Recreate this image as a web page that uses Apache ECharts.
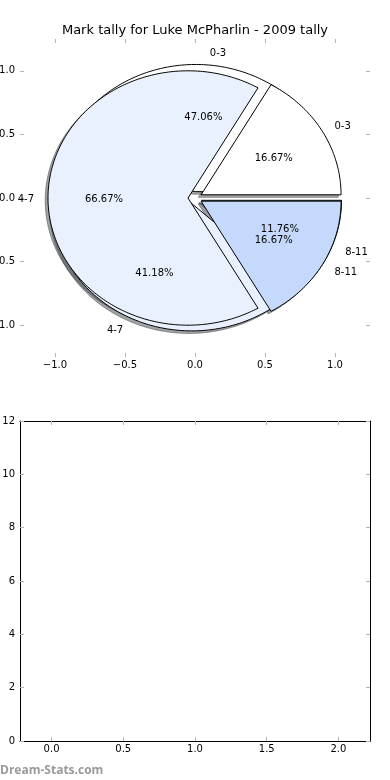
<!DOCTYPE html>
<html><head><meta charset="utf-8">
<script src="https://cdn.jsdelivr.net/npm/echarts@6/dist/echarts.min.js"></script>
<style>html,body{margin:0;padding:0;background:#fff}#c{width:390px;height:780px}</style>
</head><body><div id="c"></div>
<script>
const chartTitle = 'Mark tally for Luke McPharlin - 2009 tally';
const categories = ['0-3', '4-7', '8-11'];
const pieBackValues = [8, 7, 2];    // 47.06%, 41.18%, 11.76%
const pieFrontValues = [1, 4, 1];   // 16.67%, 66.67%, 16.67%
const explodeValues = [0.05, 0.05, 0.05];
const pieTicks = [-1, -0.5, 0, 0.5, 1];
const lowerXTicks = [0, 0.5, 1, 1.5, 2];
const lowerYTicks = [0, 2, 4, 6, 8, 10, 12];
const watermark = 'Dream-Stats.com';

const wedgeColors = ['#ffffff', '#eaf1fe', '#c5d9fc'];
const FONT = 'DejaVu Sans';
const pies = [pieBackValues, pieFrontValues];
const SHADOW_OFF = -0.02;
const TEXT_DY = 1.5;

function geom(p, i) {
  const vals = pies[p];
  const total = vals.reduce((a, b) => a + b, 0);
  let s = 0;
  for (let k = 0; k < i; k++) s += vals[k] / total * 360;
  const e = s + vals[i] / total * 360;
  const mid = (s + e) / 2 * Math.PI / 180;
  return { s, e, mid, cx: explodeValues[i] * Math.cos(mid), cy: explodeValues[i] * Math.sin(mid), pct: vals[i] / total * 100 };
}
function wedgePoints(api, g, dx, dy) {
  const pts = [api.coord([g.cx + dx, g.cy + dy])];
  const n = Math.max(2, Math.ceil(g.e - g.s));
  for (let k = 0; k <= n; k++) {
    const a = (g.s + (g.e - g.s) * k / n) * Math.PI / 180;
    pts.push(api.coord([g.cx + dx + Math.cos(a), g.cy + dy + Math.sin(a)]));
  }
  return pts;
}
function shade(hex) {
  const n = parseInt(hex.slice(1), 16);
  const r = Math.round(((n >> 16) & 255) * 0.3), g = Math.round(((n >> 8) & 255) * 0.3), b = Math.round((n & 255) * 0.3);
  return 'rgba(' + r + ',' + g + ',' + b + ',0.5)';
}
const items = [];
pies.forEach((v, p) => v.forEach((_, i) => items.push([p, i])));

const fmt1 = v => (v < 0 ? '\u2212' : '') + Math.abs(v).toFixed(1);
const tickStyle = { color: '#b4b4b4', width: 1 };
const spine = (show) => ({ show: show, onZero: false, lineStyle: { color: '#000', width: 1 } });

const option = {
  animation: false,
  title: { text: chartTitle, left: 'center', top: 19, textStyle: { fontSize: 13, fontWeight: 'normal', color: '#000', fontFamily: FONT } },
  grid: [
    { left: 20, top: 39, width: 350, height: 318, containLabel: false, outerBoundsMode: 'none' },
    { left: 20, top: 421, width: 350, height: 320, containLabel: false, outerBoundsMode: 'none' }
  ],
  xAxis: [
    { gridIndex: 0, type: 'value', min: -1.25, max: 1.25, position: 'bottom', axisLine: spine(false),
      axisTick: { show: true, inside: true, length: 4, customValues: pieTicks, lineStyle: tickStyle },
      axisLabel: { customValues: pieTicks, formatter: fmt1, margin: 3, fontSize: 10, color: '#000', fontFamily: FONT },
      splitLine: { show: false } },
    { gridIndex: 0, type: 'value', min: -1.25, max: 1.25, position: 'top', axisLine: spine(false),
      axisTick: { show: true, inside: true, length: 4, customValues: pieTicks, lineStyle: tickStyle },
      axisLabel: { show: false }, splitLine: { show: false } },
    { gridIndex: 1, type: 'value', min: -0.22, max: 2.22, position: 'bottom', axisLine: spine(true),
      axisTick: { show: true, inside: true, length: 4, customValues: lowerXTicks, lineStyle: tickStyle },
      axisLabel: { customValues: lowerXTicks, formatter: fmt1, margin: 3, fontSize: 10, color: '#000', fontFamily: FONT },
      splitLine: { show: false } },
    { gridIndex: 1, type: 'value', min: -0.22, max: 2.22, position: 'top', axisLine: spine(true),
      axisTick: { show: true, inside: true, length: 4, customValues: lowerXTicks, lineStyle: tickStyle },
      axisLabel: { show: false }, splitLine: { show: false } }
  ],
  yAxis: [
    { gridIndex: 0, type: 'value', min: -1.25, max: 1.25, position: 'left', axisLine: spine(false),
      axisTick: { show: true, inside: true, length: 4, customValues: pieTicks, lineStyle: tickStyle },
      axisLabel: { customValues: pieTicks, formatter: fmt1, margin: 5, fontSize: 10, color: '#000', fontFamily: FONT },
      splitLine: { show: false } },
    { gridIndex: 0, type: 'value', min: -1.25, max: 1.25, position: 'right', axisLine: spine(false),
      axisTick: { show: true, inside: true, length: 4, customValues: pieTicks, lineStyle: tickStyle },
      axisLabel: { show: false }, splitLine: { show: false } },
    { gridIndex: 1, type: 'value', min: 0, max: 12, interval: 2, position: 'left', axisLine: spine(true),
      axisTick: { show: true, inside: true, length: 4, customValues: lowerYTicks, lineStyle: tickStyle },
      axisLabel: { customValues: lowerYTicks, margin: 5, fontSize: 10, color: '#000', fontFamily: FONT },
      splitLine: { show: false } },
    { gridIndex: 1, type: 'value', min: 0, max: 12, interval: 2, position: 'right', axisLine: spine(true),
      axisTick: { show: true, inside: true, length: 4, customValues: lowerYTicks, lineStyle: tickStyle },
      axisLabel: { show: false }, splitLine: { show: false } }
  ],
  graphic: [
    { type: 'text', left: 0, top: 765, style: { text: watermark, fill: '#9a9a9a', font: 'bold 12px "Open Sans", sans-serif' } }
  ],
  series: [
    { type: 'custom', name: 'shadows', xAxisIndex: 0, yAxisIndex: 0, z: 2, clip: false, data: items,
      renderItem: (params, api) => {
        const p = api.value(0), i = api.value(1), g = geom(p, i);
        const c = shade(wedgeColors[i]);
        return { type: 'polygon', shape: { points: wedgePoints(api, g, SHADOW_OFF, SHADOW_OFF) }, style: { fill: c, stroke: c, lineWidth: 1 } };
      } },
    { type: 'custom', name: 'wedges', xAxisIndex: 0, yAxisIndex: 0, z: 3, clip: false, data: items,
      renderItem: (params, api) => {
        const p = api.value(0), i = api.value(1), g = geom(p, i);
        return { type: 'polygon', shape: { points: wedgePoints(api, g, 0, 0) }, style: { fill: wedgeColors[i], stroke: '#000', lineWidth: 1, lineJoin: 'miter' } };
      } },
    { type: 'custom', name: 'labels', xAxisIndex: 0, yAxisIndex: 0, z: 4, clip: false, data: items,
      renderItem: (params, api) => {
        const p = api.value(0), i = api.value(1), g = geom(p, i);
        const lx = g.cx + 1.1 * Math.cos(g.mid), ly = g.cy + 1.1 * Math.sin(g.mid);
        const px = g.cx + 0.6 * Math.cos(g.mid), py = g.cy + 0.6 * Math.sin(g.mid);
        const lp = api.coord([lx, ly]), pp = api.coord([px, py]);
        return { type: 'group', children: [
          { type: 'text', x: lp[0], y: lp[1] + TEXT_DY, style: { text: categories[i], align: lx > 0 ? 'left' : 'right', verticalAlign: 'middle', fill: '#000', font: '10px "DejaVu Sans"' } },
          { type: 'text', x: pp[0], y: pp[1] + TEXT_DY, style: { text: g.pct.toFixed(2) + '%', align: 'center', verticalAlign: 'middle', fill: '#000', font: '10px "DejaVu Sans"' } }
        ] };
      } }
  ]
};
const chart = echarts.init(document.getElementById('c'), null, { renderer: 'canvas' });
chart.setOption(option);
</script></body></html>
